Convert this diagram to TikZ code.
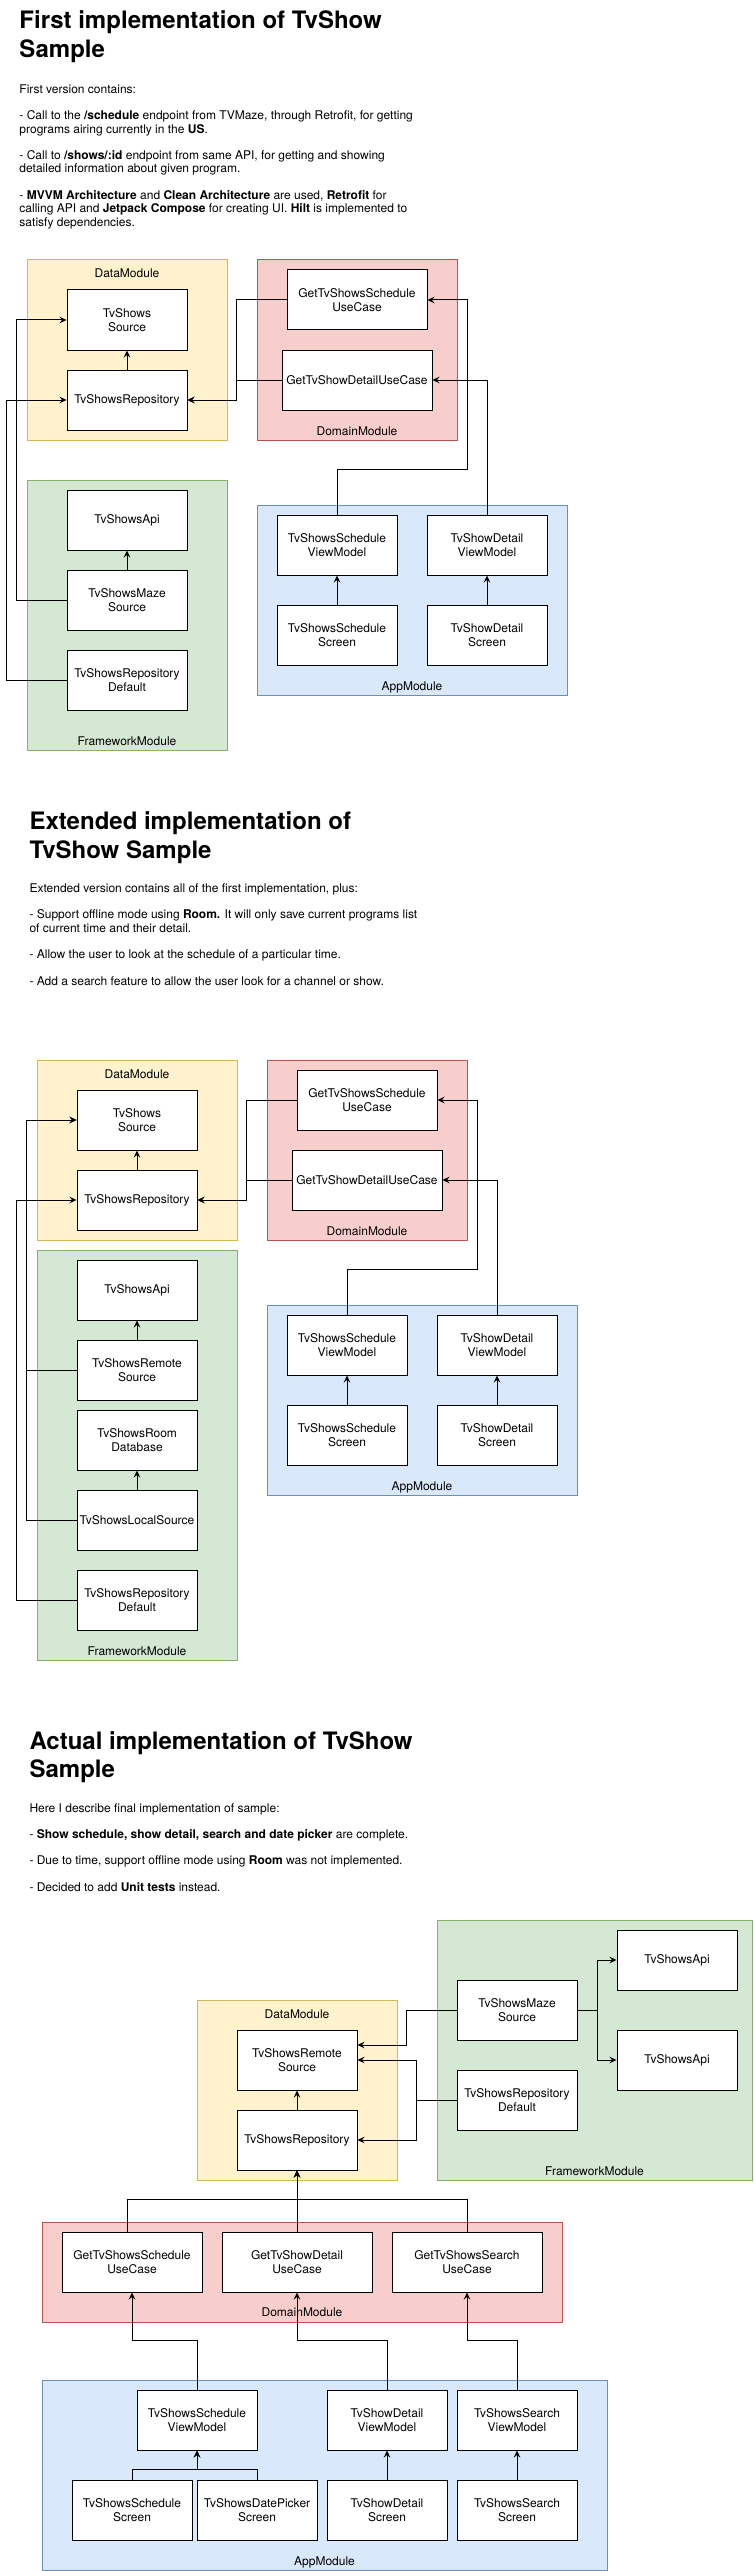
\documentclass[tikz,border=0pt]{standalone}
\usepackage{fontspec}
\setmainfont{TeX Gyre Heros}
\usepackage{tikz}
\usetikzlibrary{arrows.meta, positioning}

\definecolor{datafill}{HTML}{FFF2CC}
\definecolor{dataline}{HTML}{D6B656}
\definecolor{domainfill}{HTML}{F8CECC}
\definecolor{domainline}{HTML}{B85450}
\definecolor{fwfill}{HTML}{D5E8D4}
\definecolor{fwline}{HTML}{82B366}
\definecolor{appfill}{HTML}{DAE8FC}
\definecolor{appline}{HTML}{6C8EBF}

\newcommand\titlestrut{\rule{0pt}{20pt}}
\newcommand\bodystrut{\rule{0pt}{10.5pt}}

\begin{document}
\begin{tikzpicture}[x=1pt, y=-1pt, line width=1pt,
        box/.style={draw=black, fill=white, minimum width=120pt, minimum height=60pt, align=center, inner sep=1pt, font=\fontsize{12}{14.5}\selectfont},
        modlabel/.style={anchor=base, inner sep=0pt, font=\fontsize{12}{14.5}\selectfont},
        titletext/.style={anchor=north west, align=left, inner sep=0pt, font=\fontsize{24}{28.4}\selectfont\bfseries},
        bodytext/.style={anchor=north west, align=left, inner sep=0pt, font=\fontsize{12}{13.3}\selectfont},
        datamod/.style={fill=datafill, draw=dataline},
        domainmod/.style={fill=domainfill, draw=domainline},
        fwmod/.style={fill=fwfill, draw=fwline},
        appmod/.style={fill=appfill, draw=appline},
        arr/.style={-{Stealth[length=7pt, width=6.5pt, inset=2.5pt]}}]
            \useasboundingbox (0,0) rectangle (753,2571);

            % ---------- first implementation ----------
            \node[titletext] (title1) at (19,8.3) {\titlestrut First implementation of TvShow\\Sample};
            \node[bodytext] (intro1) at (19,82.2) {\bodystrut First version contains:\\[13.3pt]
                - Call to the \textbf{/schedule} endpoint from TVMaze, through Retrofit, for getting\\
                programs airing currently in the \textbf{US}.\\[13.3pt]
                - Call to \textbf{/shows/:id} endpoint from same API, for getting and showing\\
                detailed information about given program.\\[13.3pt]
                - \textbf{MVVM Architecture} and \textbf{Clean Architecture} are used, \textbf{Retrofit} for\\
                calling API and \textbf{Jetpack Compose} for creating UI. \textbf{Hilt} is implemented to\\
                satisfy dependencies.};

            % modules
            \filldraw[datamod] (27,260) rectangle (227,440);
            \filldraw[domainmod] (257,260) rectangle (457,440);
            \filldraw[fwmod] (27,480) rectangle (227,750);
            \filldraw[appmod] (257,505) rectangle (567,695);
            \node[modlabel] (datalab1) at (127,278) {DataModule};
            \node[modlabel] (domlab1) at (357,435) {DomainModule};
            \node[modlabel] (fwlab1) at (127,745) {FrameworkModule};
            \node[modlabel] (applab1) at (412,690) {AppModule};

            % boxes
            \node[box] (src1) at (127,320) {TvShows\\Source};
            \node[box] (repo1) at (127,400) {TvShowsRepository};
            \node[box, minimum width=140pt] (schuc1) at (357,300) {GetTvShowsSchedule\\UseCase};
            \node[box, minimum width=150pt] (detuc1) at (357,380) {GetTvShowDetailUseCase};
            \node[box] (api1) at (127,520) {TvShowsApi};
            \node[box] (maze1) at (127,600) {TvShowsMaze\\Source};
            \node[box] (rdef1) at (127,680) {TvShowsRepository\\Default};
            \node[box] (schvm1) at (337,545) {TvShowsSchedule\\ViewModel};
            \node[box] (detvm1) at (487,545) {TvShowDetail\\ViewModel};
            \node[box] (schscr1) at (337,635) {TvShowsSchedule\\Screen};
            \node[box] (detscr1) at (487,635) {TvShowDetail\\Screen};

            % arrows
            \draw[arr] (repo1.north) -- (src1.south);
            \draw[arr] (maze1.north) -- (api1.south);
            \draw[arr] (schscr1.north) -- (schvm1.south);
            \draw[arr] (detscr1.north) -- (detvm1.south);
            \draw[arr] (schuc1.west) -- ++(-50,0) |- (repo1.east);
            \draw[arr] (detuc1.west) -- ++(-45,0) |- (repo1.east);
            \draw[arr] (maze1.west) -- ++(-50,0) |- (src1.west);
            \draw[arr] (rdef1.west) -- ++(-60,0) |- (repo1.west);
            \draw[arr] (schvm1.north) -- ++(0,-45) -- ++(130,0) |- (schuc1.east);
            \draw[arr] (detvm1.north) |- (detuc1.east);

            % ---------- extended implementation ----------
            \node[titletext] (title2) at (29,809.3) {\titlestrut Extended implementation of\\TvShow Sample};
            \node[bodytext] (intro2) at (29,881.2) {\bodystrut Extended version contains all of the first implementation, plus:\\[13.3pt]
                - Support offline mode using \textbf{Room.} It will only save current programs list\\
                of current time and their detail.\\[13.3pt]
                - Allow the user to look at the schedule of a particular time.\\[13.3pt]
                - Add a search feature to allow the user look for a channel or show.};

            % modules
            \filldraw[datamod] (37,1060) rectangle (237,1240);
            \filldraw[domainmod] (267,1060) rectangle (467,1240);
            \filldraw[fwmod] (37,1250) rectangle (237,1660);
            \filldraw[appmod] (267,1305) rectangle (577,1495);
            \node[modlabel] (datalab2) at (137,1078) {DataModule};
            \node[modlabel] (domlab2) at (367,1235) {DomainModule};
            \node[modlabel] (fwlab2) at (137,1655) {FrameworkModule};
            \node[modlabel] (applab2) at (422,1490) {AppModule};

            % boxes
            \node[box] (src2) at (137,1120) {TvShows\\Source};
            \node[box] (repo2) at (137,1200) {TvShowsRepository};
            \node[box, minimum width=140pt] (schuc2) at (367,1100) {GetTvShowsSchedule\\UseCase};
            \node[box, minimum width=150pt] (detuc2) at (367,1180) {GetTvShowDetailUseCase};
            \node[box] (api2) at (137,1290) {TvShowsApi};
            \node[box] (remote2) at (137,1370) {TvShowsRemote\\Source};
            \node[box] (room2) at (137,1440) {TvShowsRoom\\Database};
            \node[box] (local2) at (137,1520) {TvShowsLocalSource};
            \node[box] (rdef2) at (137,1600) {TvShowsRepository\\Default};
            \node[box] (schvm2) at (347,1345) {TvShowsSchedule\\ViewModel};
            \node[box] (detvm2) at (497,1345) {TvShowDetail\\ViewModel};
            \node[box] (schscr2) at (347,1435) {TvShowsSchedule\\Screen};
            \node[box] (detscr2) at (497,1435) {TvShowDetail\\Screen};

            % arrows
            \draw[arr] (repo2.north) -- (src2.south);
            \draw[arr] (remote2.north) -- (api2.south);
            \draw[arr] (local2.north) -- (room2.south);
            \draw[arr] (schscr2.north) -- (schvm2.south);
            \draw[arr] (detscr2.north) -- (detvm2.south);
            \draw[arr] (schuc2.west) -- ++(-50,0) |- (repo2.east);
            \draw[arr] (detuc2.west) -- ++(-45,0) |- (repo2.east);
            \draw[arr] (remote2.west) -- ++(-50,0) |- (src2.west);
            \draw[arr] (local2.west) -- ++(-50,0) |- (src2.west);
            \draw[arr] (rdef2.west) -- ++(-60,0) |- (repo2.west);
            \draw[arr] (schvm2.north) -- ++(0,-45) -- ++(130,0) |- (schuc2.east);
            \draw[arr] (detvm2.north) |- (detuc2.east);

            % ---------- actual implementation ----------
            \node[titletext] (title3) at (29,1729) {\titlestrut Actual implementation of TvShow\\Sample};
            \node[bodytext] (intro3) at (29,1801.2) {\bodystrut Here I describe final implementation of sample:\\[13pt]
                - \textbf{Show schedule, show detail, search and date picker} are complete.\\[13pt]
                - Due to time, support offline mode using \textbf{Room} was not implemented.\\[13pt]
                - Decided to add \textbf{Unit tests} instead.};

            % modules
            \filldraw[fwmod] (437,1920) rectangle (752,2180);
            \filldraw[datamod] (197,2000) rectangle (397,2180);
            \filldraw[domainmod] (42,2222) rectangle (562,2322);
            \filldraw[appmod] (42,2380) rectangle (607,2570);
            \node[modlabel] (fwlab3) at (594.5,2175) {FrameworkModule};
            \node[modlabel] (datalab3) at (297,2018) {DataModule};
            \node[modlabel] (domlab3) at (302,2316) {DomainModule};
            \node[modlabel] (applab3) at (324.5,2565) {AppModule};

            % boxes
            \node[box] (remote3) at (297,2060) {TvShowsRemote\\Source};
            \node[box] (repo3) at (297,2140) {TvShowsRepository};
            \node[box] (maze3) at (517,2010) {TvShowsMaze\\Source};
            \node[box] (rdef3) at (517,2100) {TvShowsRepository\\Default};
            \node[box] (apia3) at (677,1960) {TvShowsApi};
            \node[box] (apib3) at (677,2060) {TvShowsApi};
            \node[box, minimum width=140pt] (schuc3) at (132,2262) {GetTvShowsSchedule\\UseCase};
            \node[box, minimum width=150pt] (detuc3) at (297,2262) {GetTvShowDetail\\UseCase};
            \node[box, minimum width=150pt] (srchuc3) at (467,2262) {GetTvShowsSearch\\UseCase};
            \node[box] (schvm3) at (197,2420) {TvShowsSchedule\\ViewModel};
            \node[box] (detvm3) at (387,2420) {TvShowDetail\\ViewModel};
            \node[box] (srchvm3) at (517,2420) {TvShowsSearch\\ViewModel};
            \node[box] (schscr3) at (132,2510) {TvShowsSchedule\\Screen};
            \node[box] (dpscr3) at (257,2510) {TvShowsDatePicker\\Screen};
            \node[box] (detscr3) at (387,2510) {TvShowDetail\\Screen};
            \node[box] (srchscr3) at (517,2510) {TvShowsSearch\\Screen};

            % arrows
            \draw[arr] (repo3.north) -- (remote3.south);
            \draw[arr] (maze3.west) -- ++(-50,0) |- ([yshift=15pt]remote3.east);
            \draw[arr] (rdef3.west) -- ++(-40,0) |- (remote3.east);
            \draw[arr] (rdef3.west) -- ++(-40,0) |- (repo3.east);
            \draw[arr] (maze3.east) -- ++(20,0) |- (apia3.west);
            \draw[arr] (maze3.east) -- ++(20,0) |- (apib3.west);
            \draw[arr] ([xshift=-5pt]schuc3.north) -- ++(0,-32) -| (repo3.south);
            \draw[arr] (detuc3.north) -- (repo3.south);
            \draw[arr] (srchuc3.north) -- ++(0,-32) -| (repo3.south);
            \draw[arr] (schvm3.north) -- ++(0,-49) -| (schuc3.south);
            \draw[arr] (detvm3.north) -- ++(0,-49) -| (detuc3.south);
            \draw[arr] (srchvm3.north) -- ++(0,-49) -| (srchuc3.south);
            \draw[arr] (schscr3.north) -- ++(0,-10) -| (schvm3.south);
            \draw[arr] (dpscr3.north) -- ++(0,-10) -| (schvm3.south);
            \draw[arr] (detscr3.north) -- (detvm3.south);
            \draw[arr] (srchscr3.north) -- (srchvm3.south);
        \end{tikzpicture}
\end{document}
